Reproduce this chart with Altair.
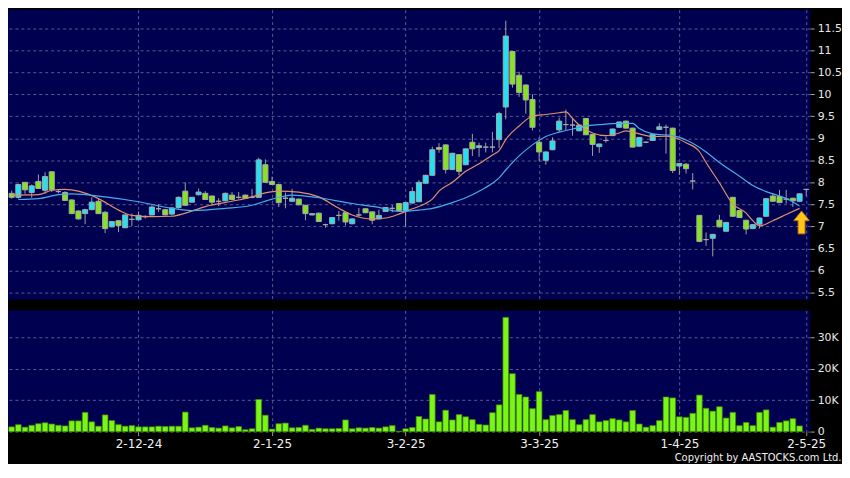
import altair as alt
import pandas as pd

# ---- daily candles (trading-day index 0..119) ----
opens = [7.75, 7.66, 8.00, 7.77, 8.02, 7.82, 8.24, 7.79, 7.77, 7.60,
         7.35, 7.29, 7.38, 7.57, 7.32, 6.99, 7.13, 6.97, 7.16, 7.15,
         7.22, 7.26, 7.40, 7.38, 7.28, 7.43, 7.80, 7.55, 7.72, 7.75,
         7.69, 7.57, 7.58, 7.71, 7.66, 7.71, 7.66, 7.66, 8.40, 8.02,
         7.95, 7.64, 7.57, 7.62, 7.48, 7.26, 7.30, 7.04, 7.06, 7.25,
         7.31, 7.06, 7.26, 7.40, 7.33, 7.17, 7.34, 7.41, 7.52, 7.36,
         7.53, 7.56, 7.98, 8.16, 8.79, 8.85, 8.29, 8.63, 8.40, 8.91,
         8.79, 8.80, 8.80, 8.97, 9.71, 10.97, 10.43, 10.21, 9.88, 8.91,
         8.50, 8.74, 9.19, 9.31, 9.30, 9.17, 9.45, 9.09, 8.81, 8.95,
         9.06, 9.25, 9.39, 9.23, 8.82, 8.91, 8.95, 9.20, 9.25, 9.23,
         8.37, 8.41, 8.03, 7.25, 6.70, 6.73, 7.14, 6.89, 7.66, 7.36,
         7.14, 6.95, 7.05, 7.23, 7.69, 7.68, 7.62, 7.64, 7.57, 7.84]
highs = [7.81, 7.97, 8.01, 7.95, 8.18, 8.23, 8.25, 7.83, 7.80, 7.61,
         7.36, 7.40, 7.66, 7.62, 7.35, 7.12, 7.14, 7.27, 7.29, 7.34,
         7.25, 7.48, 7.51, 7.40, 7.43, 7.68, 8.00, 7.67, 7.86, 7.80,
         7.70, 7.64, 7.77, 7.78, 7.78, 7.72, 7.85, 8.56, 8.52, 8.13,
         7.96, 7.77, 7.85, 7.63, 7.49, 7.30, 7.31, 7.06, 7.21, 7.35,
         7.32, 7.18, 7.42, 7.41, 7.34, 7.38, 7.44, 7.48, 7.53, 7.55,
         7.89, 8.05, 8.17, 8.81, 8.89, 8.86, 8.67, 8.64, 8.77, 9.10,
         8.90, 8.90, 9.14, 9.60, 11.67, 10.98, 10.51, 10.22, 10.00, 9.02,
         8.70, 9.02, 9.47, 9.65, 9.47, 9.31, 9.46, 9.10, 8.88, 9.04,
         9.22, 9.38, 9.40, 9.24, 9.03, 8.93, 9.10, 9.34, 9.31, 9.24,
         8.44, 8.44, 8.21, 7.26, 6.86, 6.83, 7.26, 7.10, 7.67, 7.37,
         7.15, 7.05, 7.20, 7.64, 7.74, 7.83, 7.83, 7.65, 7.75, 7.84]
lows = [7.63, 7.63, 7.74, 7.65, 7.85, 7.74, 7.78, 7.75, 7.58, 7.28,
        7.15, 7.05, 7.37, 7.28, 6.85, 6.98, 6.87, 6.96, 7.01, 7.14,
        7.18, 7.25, 7.33, 7.25, 7.25, 7.40, 7.46, 7.54, 7.70, 7.60,
        7.48, 7.46, 7.57, 7.60, 7.63, 7.62, 7.64, 7.65, 7.99, 7.94,
        7.44, 7.41, 7.56, 7.48, 7.14, 7.25, 7.10, 6.97, 7.05, 7.13,
        7.02, 7.05, 7.22, 7.30, 7.05, 7.16, 7.33, 7.32, 7.35, 7.00,
        7.52, 7.55, 7.97, 8.15, 8.67, 8.20, 8.28, 8.16, 8.39, 8.60,
        8.58, 8.68, 8.68, 8.78, 9.43, 10.15, 9.94, 9.56, 9.18, 8.48,
        8.40, 8.73, 9.15, 9.19, 9.06, 9.16, 9.07, 8.60, 8.67, 8.90,
        9.05, 9.24, 9.22, 8.79, 8.81, 8.89, 8.94, 9.19, 8.65, 8.21,
        8.17, 8.20, 7.84, 6.64, 6.56, 6.32, 6.98, 6.88, 7.22, 7.19,
        6.82, 6.94, 6.95, 7.22, 7.56, 7.53, 7.52, 7.44, 7.56, 7.69]
closes = [7.66, 7.95, 7.83, 7.92, 7.86, 8.13, 7.83, 7.79, 7.59, 7.29,
          7.17, 7.38, 7.55, 7.29, 6.95, 7.11, 7.02, 7.26, 7.16, 7.25,
          7.22, 7.44, 7.40, 7.26, 7.42, 7.66, 7.48, 7.66, 7.78, 7.61,
          7.55, 7.57, 7.75, 7.61, 7.66, 7.64, 7.66, 8.51, 8.00, 7.95,
          7.54, 7.64, 7.64, 7.49, 7.29, 7.29, 7.11, 7.04, 7.20, 7.25,
          7.10, 7.17, 7.26, 7.31, 7.14, 7.25, 7.43, 7.41, 7.36, 7.54,
          7.79, 8.00, 8.16, 8.74, 8.75, 8.29, 8.66, 8.25, 8.76, 8.76,
          8.83, 8.80, 8.80, 9.56, 11.32, 10.23, 10.04, 9.87, 9.25, 8.69,
          8.69, 8.94, 9.39, 9.31, 9.30, 9.30, 9.08, 8.86, 8.87, 8.95,
          9.21, 9.37, 9.23, 8.80, 9.02, 8.91, 9.09, 9.26, 9.25, 8.27,
          8.43, 8.31, 8.03, 6.66, 6.70, 6.82, 6.99, 7.09, 7.23, 7.20,
          6.94, 7.04, 7.19, 7.63, 7.57, 7.54, 7.62, 7.58, 7.74, 7.84]

# ---- volume in thousands (days 0..118) ----
volumes_k = [1.5, 2.2, 1.4, 2.0, 2.5, 2.8, 2.4, 2.0, 1.8, 3.4,
             3.4, 6.1, 3.1, 1.7, 5.3, 3.5, 2.2, 1.7, 1.9, 1.5,
             1.5, 1.5, 1.7, 1.6, 1.7, 1.7, 6.2, 1.2, 1.4, 2.0,
             1.3, 1.1, 1.8, 1.2, 1.6, 0.6, 0.9, 10.2, 5.2, 0.8,
             2.5, 2.7, 1.2, 1.3, 2.0, 0.7, 1.1, 0.9, 0.9, 1.0,
             3.7, 0.9, 1.2, 1.1, 1.3, 1.1, 1.5, 1.9, 0.1, 0.9,
             1.3, 4.8, 4.0, 11.8, 3.1, 6.8, 3.7, 5.4, 4.7, 3.8,
             2.3, 2.1, 6.0, 8.5, 36.3, 18.4, 11.8, 11.0, 7.3, 12.7,
             3.8, 5.1, 5.4, 6.7, 3.8, 2.2, 3.8, 5.4, 3.1, 3.5,
             4.1, 3.7, 3.1, 6.7, 2.4, 1.4, 1.9, 3.5, 11.0, 10.7,
             4.7, 4.5, 5.8, 11.6, 7.4, 6.5, 7.9, 4.3, 6.1, 1.9,
             2.9, 1.9, 6.1, 6.9, 1.4, 2.9, 3.4, 4.1, 1.8]

# ---- moving averages ----
ma10_days = [0, 4, 6, 8, 10, 13, 16, 18, 21, 24, 26, 29, 33, 36, 38, 40, 43, 46, 49, 51,
             54, 56, 58, 60, 62, 63, 64, 66, 68, 70, 72, 73, 74, 76, 78, 80, 82, 83, 84, 85,
             86, 87, 89, 91, 92, 94, 96, 98, 99, 101, 103, 104, 106, 108, 110, 111, 112, 114, 116, 118]
ma10_vals = [7.71, 7.72, 7.82, 7.84, 7.80, 7.63, 7.37, 7.25, 7.22, 7.23, 7.30, 7.45, 7.57, 7.67, 7.76,
             7.80, 7.78, 7.67, 7.41, 7.26, 7.17, 7.19, 7.28, 7.40, 7.52, 7.62, 7.80, 8.00, 8.25, 8.42,
             8.62, 8.72, 8.97, 9.28, 9.50, 9.54, 9.58, 9.60, 9.45, 9.30, 9.20, 9.12, 9.06, 9.12, 9.17,
             9.10, 9.04, 9.05, 9.03, 8.90, 8.70, 8.45, 7.99, 7.51, 7.30, 7.13, 7.01, 7.13, 7.27, 7.41]
ma20_days = [1, 4, 7, 9, 14, 19, 24, 27, 32, 36, 39, 42, 46, 51, 55, 58, 61, 63, 66, 68,
             70, 72, 73, 74, 76, 78, 80, 82, 84, 86, 88, 91, 93, 94, 96, 99, 101, 104, 106, 109,
             111, 113, 115, 117, 118]
ma20_vals = [7.61, 7.63, 7.72, 7.74, 7.67, 7.56, 7.41, 7.36, 7.41, 7.48, 7.62, 7.71, 7.65, 7.52, 7.43,
             7.34, 7.37, 7.41, 7.54, 7.65, 7.80, 7.98, 8.10, 8.28, 8.60, 8.85, 9.04, 9.14, 9.21, 9.28,
             9.31, 9.34, 9.34, 9.22, 9.10, 9.06, 8.96, 8.69, 8.45, 8.14, 7.93, 7.79, 7.69, 7.56, 7.46]

# ---- axis ticks / annotation ----
tick_days = [19, 39, 59, 79, 100, 119]
tick_labels = ["2-12-24", "2-1-25", "3-2-25", "3-3-25", "1-4-25", "2-5-25"]
price_ticks = [5.5, 6, 6.5, 7, 7.5, 8, 8.5, 9, 9.5, 10, 10.5, 11, 11.5]
vol_ticks = [0, 10, 20, 30]
arrow_day = [118.3]
arrow_price = [7.09]

W = 808
PH = 292
VH = 122
FONT = "DejaVu Sans"
GRID = "#5a5a8e"

candles = pd.DataFrame({"day": list(range(len(opens))), "open": opens, "high": highs,
                        "low": lows, "close": closes})
vol = pd.DataFrame({"day": list(range(len(volumes_k))), "vol": volumes_k})
ma10 = pd.DataFrame({"day": ma10_days, "ma": ma10_vals})
ma20 = pd.DataFrame({"day": ma20_days, "ma": ma20_vals})
arrow = pd.DataFrame({"day": arrow_day, "price": arrow_price})

xscale = alt.Scale(domain=[-0.55, 119.6], nice=False, zero=False)
pscale = alt.Scale(domain=[5.34, 11.92], nice=False, zero=False)
vscale = alt.Scale(domain=[0, 38.5], nice=False)

label_expr = "[" + ",".join("'%s'" % t for t in tick_labels) + "][indexof([" + \
    ",".join(str(d) for d in tick_days) + "], datum.value)]"

x_top_axis = alt.Axis(values=tick_days, labels=False, ticks=False, domain=False, title=None,
                      grid=True, gridDash=[3, 3], gridColor=GRID)
price_axis = alt.Axis(orient="right", values=price_ticks, title=None,
                      labelExpr="format(datum.value, '.1~f')",
                      grid=True, gridDash=[3, 3], gridColor=GRID, domain=False,
                      tickSize=4, tickColor="#a0a0a0", labelPadding=3, labelOverlap=False,
                      labelColor="#e8e8e8", labelFont=FONT, labelFontSize=11)

wicks = alt.Chart(candles).mark_rule(color="#a0a0a0", strokeWidth=1).encode(
    x=alt.X("day:Q", scale=xscale, axis=x_top_axis),
    y=alt.Y("low:Q", scale=pscale, axis=price_axis),
    y2="high:Q",
)

bodies = alt.Chart(candles).transform_calculate(
    x1="datum.day - 0.38", x2="datum.day + 0.38",
    top="max(datum.open, datum.close)", bot="min(datum.open, datum.close)",
    dir="datum.close > datum.open ? 'up' : (datum.close < datum.open ? 'down' : 'flat')",
).mark_rect(stroke="#a8a8a8", strokeWidth=1).encode(
    x=alt.X("x1:Q", scale=xscale, axis=x_top_axis),
    x2="x2:Q",
    y=alt.Y("top:Q", scale=pscale, axis=price_axis),
    y2="bot:Q",
    fill=alt.Fill("dir:N", scale=alt.Scale(domain=["up", "down", "flat"],
                                           range=["#1fe3f2", "#86e41c", "#a0a0a0"]), legend=None),
)

line10 = alt.Chart(ma10).mark_line(color="#e0906a", strokeWidth=1.2, interpolate="monotone").encode(
    x=alt.X("day:Q", scale=xscale, axis=x_top_axis), y=alt.Y("ma:Q", scale=pscale, axis=price_axis))
line20 = alt.Chart(ma20).mark_line(color="#45aee8", strokeWidth=1.2, interpolate="monotone").encode(
    x=alt.X("day:Q", scale=xscale, axis=x_top_axis), y=alt.Y("ma:Q", scale=pscale, axis=price_axis))

arrow_path = "M0,-1L0.68,-0.16L0.3,-0.16L0.3,1L-0.3,1L-0.3,-0.16L-0.68,-0.16Z"
arrow_mark = alt.Chart(arrow).mark_point(shape=arrow_path, size=529, filled=True, fill="#ffc61a",
                                         stroke="#c97a00", strokeWidth=1, opacity=1).encode(
    x=alt.X("day:Q", scale=xscale, axis=x_top_axis),
    y=alt.Y("price:Q", scale=pscale, axis=price_axis))

price = alt.layer(wicks, bodies, line10, line20, arrow_mark).properties(width=W, height=PH)

x_bottom_axis = alt.Axis(values=tick_days, labelExpr=label_expr, grid=True, gridDash=[3, 3],
                         gridColor=GRID, domain=False, tickSize=4, tickColor="#909090",
                         labelPadding=3, labelColor="#f0f0f0", labelFont=FONT, labelFontSize=12,
                         labelOverlap=False, labelFlush=False,
                         title="Copyright by AASTOCKS.com Ltd.", titleFont=FONT, titleFontSize=10,
                         titleFontWeight="normal", titleColor="#f0f0f0", titleAlign="right",
                         titleX=W + 31, titlePadding=3)
vol_axis = alt.Axis(orient="right", values=vol_ticks, title=None,
                    labelExpr="datum.value == 0 ? '0' : datum.value + 'K'",
                    grid=True, gridDash=[3, 3], gridColor=GRID, domain=False,
                    tickSize=4, tickColor="#a0a0a0", labelPadding=3, labelOverlap=False,
                    labelColor="#e8e8e8", labelFont=FONT, labelFontSize=11)

volume = alt.Chart(vol).transform_calculate(
    x1="datum.day - 0.42", x2="datum.day + 0.42", base="0"
).mark_rect(fill="#7cf514", stroke="#3f8f0a", strokeWidth=0.7).encode(
    x=alt.X("x1:Q", scale=xscale, axis=x_bottom_axis),
    x2="x2:Q",
    y=alt.Y("vol:Q", scale=vscale, axis=vol_axis),
    y2="base:Q",
).properties(width=W, height=VH)

chart = alt.vconcat(price, volume, spacing=11).properties(
    padding={"left": 0, "top": 0, "right": 0, "bottom": 0}
).configure(background="#000000").configure_view(
    fill="#000050", strokeWidth=0
).configure_axis(labelOverlap=False)

chart.save("out.html", embed_options={"renderer": "svg", "actions": False})
